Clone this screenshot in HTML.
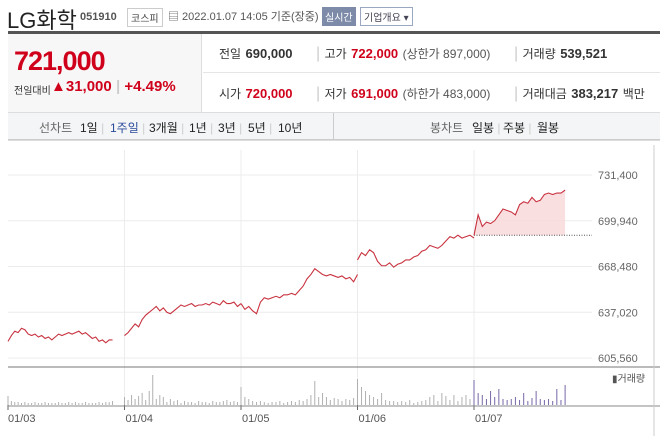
<!DOCTYPE html>
<html><head><meta charset="utf-8">
<style>
*{margin:0;padding:0;box-sizing:border-box}
body{width:660px;height:436px;background:#fff;font-family:"Liberation Sans","Noto Sans CJK KR",sans-serif;position:relative;overflow:hidden;color:#333}
.a{position:absolute;white-space:nowrap}
.red{color:#d0021b}
.lbl{font-size:12px;color:#333}
.val{font-size:13px;font-weight:bold}
.tab{font-size:12px;color:#222}
.sep{color:#ccc}
</style></head><body>
<div class="a" style="left:7px;top:3px;font-size:22px;color:#222">LG화학</div>
<div class="a" style="left:80px;top:11px;font-size:11px;color:#555;font-weight:bold">051910</div>
<div class="a" style="left:127px;top:8px;font-size:10px;border:1px solid #ccc;padding:1px 3px;color:#444">코스피</div>
<div class="a" style="left:168px;top:8px;font-size:11px;color:#555">▤ 2022.01.07 14:05 기준(장중)</div>
<div class="a" style="left:322px;top:7px;font-size:10px;background:#7d8aa8;color:#fff;padding:2px 3px">실시간</div>
<div class="a" style="left:360px;top:7px;font-size:10px;border:1px solid #9aa7c0;color:#445;padding:1px 3px">기업개요 ▾</div>

<div class="a" style="left:8px;top:31px;width:652px;height:110px;border-top:3px solid #555;border-bottom:1px solid #ddd"></div>
<div class="a" style="left:8px;top:34px;width:194px;height:78px;background:#f7f7f7;border-right:1px solid #ddd"></div>
<div class="a red" style="left:14px;top:46px;font-size:27px;font-weight:bold;letter-spacing:-1px">721,000</div>
<div class="a" style="left:14px;top:82px;font-size:10px;color:#333">전일대비</div>
<div class="a red" style="left:51px;top:78px;font-size:15px;font-weight:bold">▲31,000</div>
<div class="a red" style="left:116px;top:78px;font-size:15px;font-weight:bold"><span class="sep">|</span> +4.49%</div>
<div class="a" style="left:203px;top:72px;width:457px;border-top:1px solid #e5e5e5"></div>

<div class="a" style="left:219px;top:45px"><span class="lbl">전일</span> <span class="val">690,000</span></div>
<div class="a" style="left:316px;top:45px"><span class="sep">|</span> <span class="lbl">고가</span> <span class="val red">722,000</span> <span class="lbl" style="color:#555">(상한가 897,000)</span></div>
<div class="a" style="left:514px;top:45px"><span class="sep">|</span> <span class="lbl">거래량</span> <span class="val">539,521</span></div>
<div class="a" style="left:219px;top:85px"><span class="lbl">시가</span> <span class="val red">720,000</span></div>
<div class="a" style="left:316px;top:85px"><span class="sep">|</span> <span class="lbl">저가</span> <span class="val red">691,000</span> <span class="lbl" style="color:#555">(하한가 483,000)</span></div>
<div class="a" style="left:514px;top:85px"><span class="sep">|</span> <span class="lbl">거래대금</span> <span class="val">383,217</span> <span class="lbl">백만</span></div>

<div class="a" style="left:8px;top:112px;width:652px;height:28px;background:#f4f5f7;border-top:1px solid #ddd;border-bottom:1px solid #ccc"></div>
<div class="a" style="left:333px;top:113px;height:27px;border-left:1px solid #ccc"></div>
<div class="a tab" style="left:39px;top:119px;color:#666">선차트</div>
<div class="a tab" style="left:80px;top:119px">1일 <span class="sep">|</span></div>
<div class="a tab" style="left:110px;top:119px;color:#2a4a9a">1주일 <span class="sep">|</span></div>
<div class="a tab" style="left:149px;top:119px">3개월 <span class="sep">|</span></div>
<div class="a tab" style="left:189px;top:119px">1년 <span class="sep">|</span></div>
<div class="a tab" style="left:218px;top:119px">3년 <span class="sep">|</span></div>
<div class="a tab" style="left:248px;top:119px">5년 <span class="sep">|</span></div>
<div class="a tab" style="left:278px;top:119px">10년</div>
<div class="a tab" style="left:430px;top:119px;color:#666">봉차트</div>
<div class="a tab" style="left:472px;top:119px">일봉 <span class="sep">|</span></div>
<div class="a tab" style="left:503px;top:119px">주봉 <span class="sep">|</span></div>
<div class="a tab" style="left:537px;top:119px">월봉</div>

<svg class="a" id="chart" style="left:0;top:0" width="660" height="436"></svg>

<script>
const yTicks=[731400,699940,668480,637020,605560];
const yTickLabels=["731,400","699,940","668,480","637,020","605,560"];
const dayLabels=["01/03","01/04","01/05","01/06","01/07"];
const dayEndMinutes=[350,390,390,390,305];
const prevClose=690000;
const day1=[617000,621000,624000,623000,626000,625000,622000,621000,622000,620000,621000,619000,620000,618000,620000,622000,621000,622000,623000,622000,623000,624000,622000,623000,621000,619000,620000,617000,618000,616000,618000,618000];
const day2=[621000,623000,626000,629000,627000,632000,635000,637000,639000,641000,638000,640000,637000,636000,638000,640000,642000,641000,642000,643000,641000,642000,642000,643000,642000,644000,643000,642000,645000,643000,643000,644000,641000,643000];
const day3=[643000,639000,641000,638000,636000,644000,647000,646000,647000,648000,647000,649000,649000,650000,649000,652000,655000,660000,663000,667000,665000,663000,662000,663000,662000,661000,662000,660000,661000,658000,663000];
const day4=[673000,678000,676000,680000,678000,672000,669000,669000,671000,668000,670000,671000,673000,673000,675000,676000,679000,680000,683000,682000,681000,683000,686000,689000,688000,690000,688000,689000,690000,688000];
const day5=[690000,704000,696000,699000,698000,700000,704000,708000,707000,706000,704000,711000,713000,712000,716000,713000,714000,718000,719000,718000,719000,719000,721000];
const vol1=[9,4,3,3,2,3,2,2,3,2,2,3,2,2,2,3,2,2,3,2,3,2,2,3,2,2,2,3,2,3,3,4];
const vol2=[8,5,10,6,9,12,5,14,30,6,10,8,3,6,4,5,2,4,3,3,2,4,3,3,2,4,3,3,4,5,3,4,3,4];
const vol3=[18,8,6,4,3,4,3,2,3,3,4,2,3,4,3,5,4,6,10,24,8,12,8,5,7,6,4,6,5,7,6];
const vol4=[26,18,14,10,8,6,12,5,4,4,3,4,3,5,2,3,4,5,8,10,4,12,9,5,10,4,8,10,6,8];
const vol5=[25,12,10,6,14,8,16,6,5,6,8,5,12,4,7,14,6,5,6,4,16,5,20];
const days=[day1,day2,day3,day4,day5];
const vols=[vol1,vol2,vol3,vol4,vol5];

const NS="http://www.w3.org/2000/svg";
const svg=document.getElementById('chart');
const X0=8, DAYW=116.5, TOP=175, BOT=358, VBASE=405, PR=592;
const yScale=v=>TOP+(yTicks[0]-v)/(yTicks[0]-yTicks[4])*(BOT-TOP);
const xScale=(d,i,n)=>X0+d*DAYW+(dayEndMinutes[d]/390)*DAYW*(n>1?i/(n-1):0);
const vScale=v=>v;
function mk(t,a){const e=document.createElementNS(NS,t);for(const k in a)e.setAttribute(k,a[k]);svg.appendChild(e);return e;}

yTicks.forEach((t,i)=>{
  const y=yScale(t);
  const g=mk('line',{x1:8,x2:PR,y1:y,y2:y,stroke:'#ececec','stroke-width':1});
  
  
  const tx=mk('text',{x:598,y:y+4,'font-size':11,fill:'#666','font-family':'Liberation Sans, sans-serif'});
  tx.textContent=yTickLabels[i];
  
  
});
dayLabels.forEach((l,d)=>{
  const x=X0+d*DAYW;
  if(d>0){const v=mk('line',{x1:x,x2:x,y1:150,y2:410,stroke:'#ececec'});
    
    }
  const tk=mk('line',{x1:x,x2:x,y1:405,y2:410,stroke:'#666'});
  
  
  const t=mk('text',{x:x+(d==0?0:1),y:422,'font-size':11,fill:'#555','font-family':'Liberation Sans, sans-serif'});
  t.textContent=l;
  
  
});
const sep=mk('line',{x1:8,x2:660,y1:367,y2:367,stroke:'#777','stroke-width':1});


const xa=mk('line',{x1:8,x2:660,y1:406,y2:406,stroke:'#888','stroke-width':1});


const rb=mk('line',{x1:654,x2:654,y1:145,y2:436,stroke:'#ccc'});



const d5=days[4];
let pts=d5.map((v,i)=>xScale(4,i,d5.length)+','+yScale(v));
const yp=yScale(prevClose);
const area=mk('polygon',{points:pts.join(' ')+' '+xScale(4,d5.length-1,d5.length)+','+yp+' '+xScale(4,0,d5.length)+','+yp,fill:'#f9d9dc',opacity:0.85});


const pc=mk('line',{x1:xScale(4,0,d5.length),x2:PR,y1:yp,y2:yp,stroke:'#555','stroke-dasharray':'1,1.5'});



days.forEach((arr,d)=>{
  const p=arr.map((v,i)=>xScale(d,i,arr.length)+','+yScale(v)).join(' ');
  const l=mk('polyline',{points:p,fill:'none',stroke:'#c8323f','stroke-width':1.1});
  
  
});
vols.forEach((arr,d)=>{
  arr.forEach((v,i)=>{
    const x=xScale(d,i,arr.length);
    const b=mk('line',{x1:x,x2:x,y1:VBASE,y2:VBASE-vScale(v),stroke:d==4?'#7767a8':'#b0b0b0','stroke-width':1});
    
    
  });
});
const lg=mk('text',{x:612,y:382,'font-size':10,fill:'#555','font-family':'Liberation Sans, Noto Sans CJK KR, sans-serif'});
lg.textContent='▮거래량';


</script>
</body></html>
